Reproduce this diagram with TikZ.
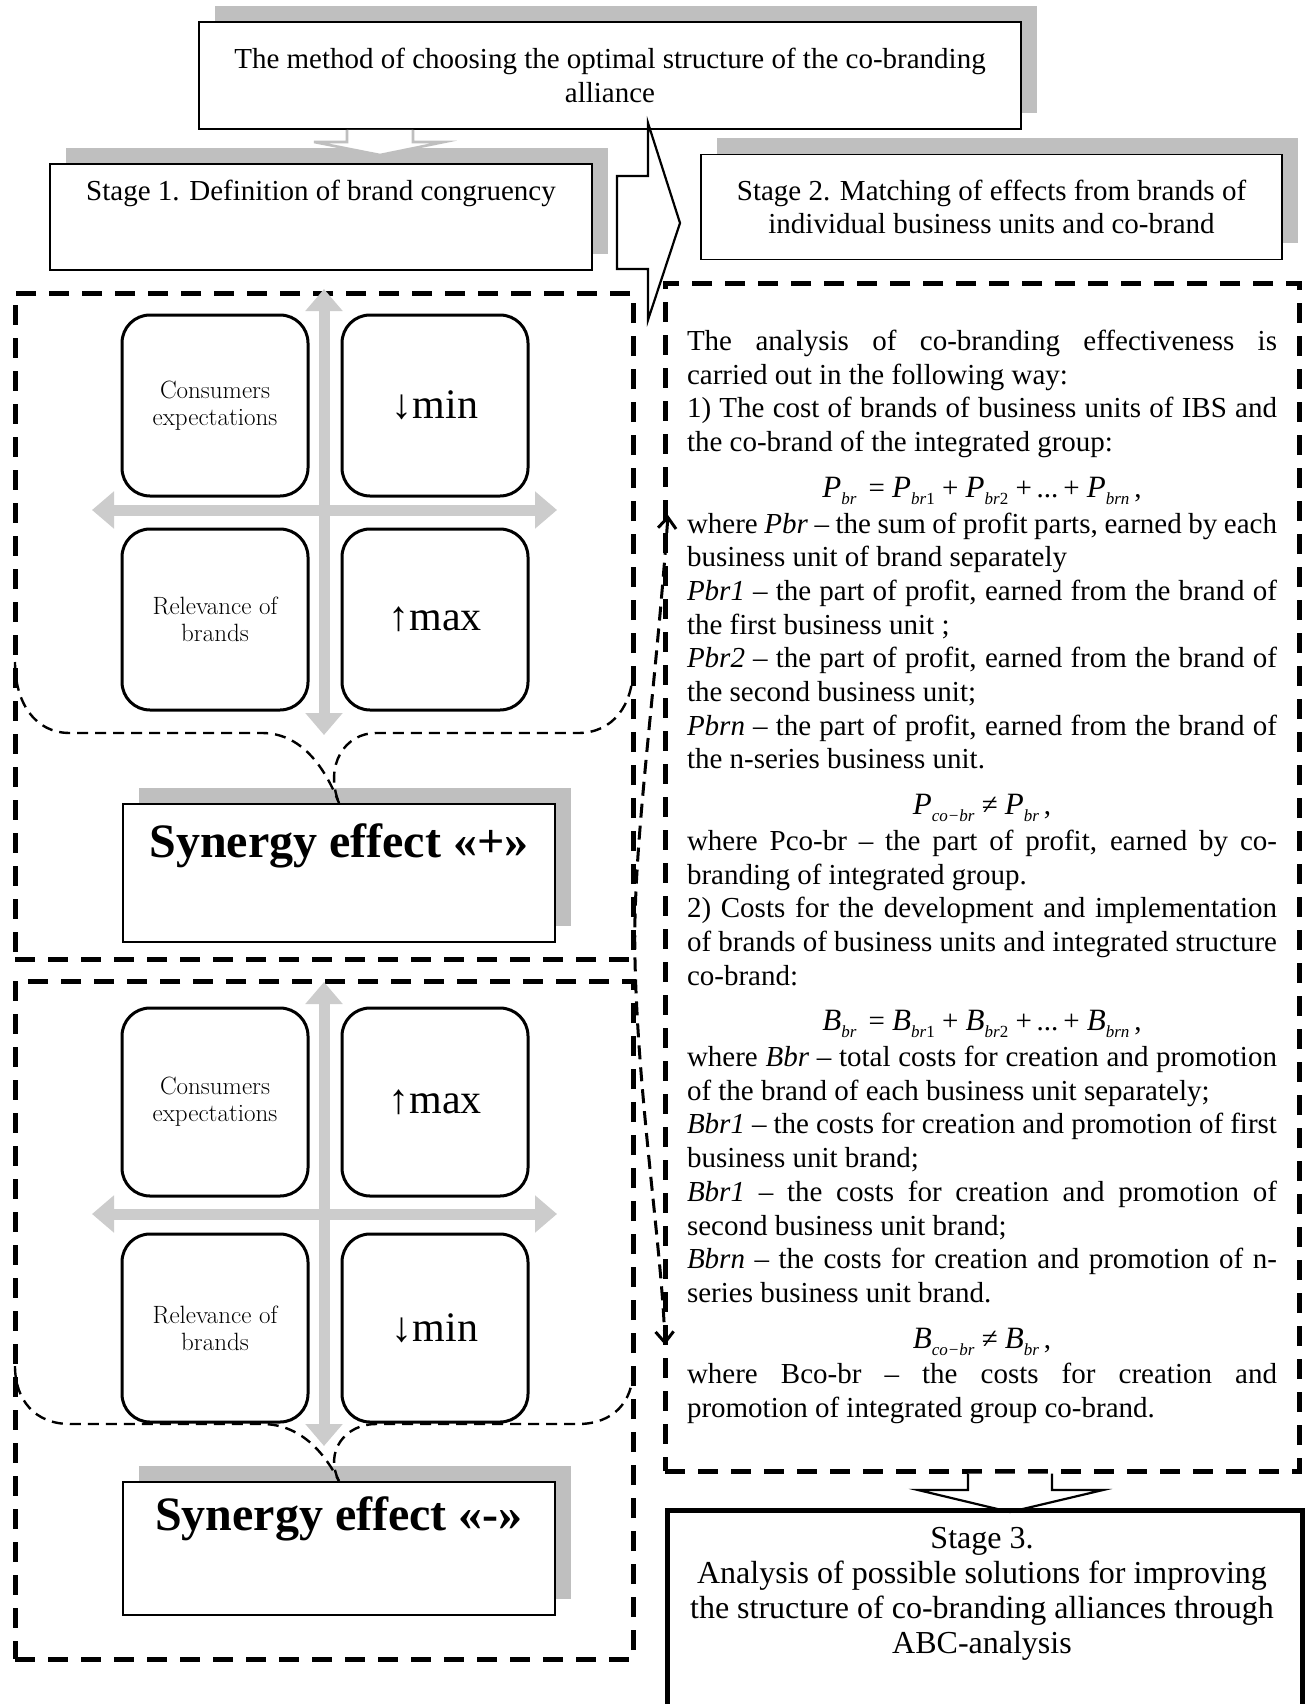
\documentclass[tikz,border=0pt]{standalone}
\usepackage{fontspec}
\setmainfont{Liberation Serif}
\usepackage{tikz}
\usetikzlibrary{positioning, arrows.meta, shadows}
\definecolor{shadowGray}{HTML}{BFBFBF}
\definecolor{axisGray}{HTML}{CCCCCC}
\newcommand{\bodyFont}{\fontsize{29}{33.7}\selectfont}
\newcommand{\cellFont}{\fontfamily{lmr}\fontsize{25}{27}\selectfont}
\newcommand{\signFont}{\fontsize{42}{46}\selectfont}
\newcommand{\synFont}{\fontsize{48}{52}\selectfont\bfseries}
% letter with an italic index, as in the formulas
\newcommand{\sbr}[2]{{\fontsize{31}{31}\selectfont\textit{#1}}\raisebox{-7pt}{\fontsize{17}{17}\selectfont\textit{#2}}}

\begin{document}
\begin{tikzpicture}[x=1pt, y=-1pt,
  shad/.style={drop shadow={shadow xshift=16pt, shadow yshift=16pt, opacity=1, fill=shadowGray}},
  boxS/.style={rectangle, draw, line width=1.8pt, fill=white, shad, align=center, font=\bodyFont},
  dashB/.style={rectangle, draw, line width=5pt, dash pattern=on 20pt off 13pt},
  quadB/.style={rectangle, draw, line width=3pt, rounded corners=28pt, fill=white,
                minimum width=186pt, minimum height=181pt, align=center},
  axisA/.style={draw=axisGray, line width=11pt,
                {Triangle[length=22pt,width=36pt]}-{Triangle[length=22pt,width=36pt]}},
  callL/.style={line width=2.4pt, dash pattern=on 11pt off 7pt},
  synB/.style={rectangle, draw, line width=1.8pt, fill=white, shad, minimum width=432pt},
  hollowA/.style={draw, line width=2.2pt, fill=white},
  linkA/.style={line width=3pt, dash pattern=on 14pt off 8pt,
                {Straight Barb[length=11pt,width=18pt]}-{Straight Barb[length=11pt,width=18pt]}},
]
  \path[use as bounding box, fill=white] (0,0) rectangle (1308,1704);

  % stages
  \node[boxS, minimum width=822pt, minimum height=107pt] (title) at (610,75.5)
    {The method of choosing the optimal structure of the co-branding\\alliance};
  \node[boxS, minimum width=542pt, minimum height=106pt] (st1) at (321,217) {};
  \node[font=\bodyFont] at ([yshift=-30pt]st1.north) {Stage 1. Definition of brand congruency};
  \node[boxS, minimum width=581pt, minimum height=105pt] (st2) at (991.5,207)
    {Stage 2. Matching of effects from brands of\\individual business units and co-brand};

  \draw[hollowA, draw=shadowGray, line width=2.6pt] (347,0 |- title.south) -- (347,142) -- (314,142)
    -- (380,155) -- (444,142) -- (413,142) -- (413,0 |- title.south);
  \draw[hollowA] (617,176) -- (648,176) -- (648,123) -- (680,223) -- (648,320) -- (648,269)
    -- (617,269) -- cycle;

  % dashed groups
  \node[dashB, minimum width=618pt, minimum height=666pt] (grp1) at (324,626) {};
  \node[dashB, minimum width=618pt, minimum height=678pt] (grp2) at (324,1320) {};

  % upper matrix
  \coordinate (vT1) at (324,289);
  \coordinate (vB1) at (324,735);
  \coordinate (hL1) at (92,510);
  \coordinate (hR1) at (557,510);
  \draw[axisA] (vT1) -- (vB1);
  \draw[axisA] (hL1) -- (hR1);
  \node[quadB, font=\cellFont] (ce1) at (215,405.5) {Consumers\\expectations};
  \node[quadB, font=\signFont, right=31pt of ce1] (mn1) {↓min};
  \node[quadB, font=\cellFont, below=30pt of ce1] (rb1) {Relevance of\\brands};
  \node[quadB, font=\signFont, right=31pt of rb1] (mx1) {↑max};

  \node[synB, minimum height=138pt] (syn1) at (339,873) {};
  \node[font=\synFont] at ([yshift=-43pt]syn1.north) {Synergy effect «+»};
  \coordinate (cl1) at (15,662);
  \coordinate (cr1) at (633,668);
  \draw[callL] (cl1) .. controls (15,703) and (35,733) .. (70,733) -- (262,733)
    .. controls (300,733) and (324,765) .. (syn1.north);
  \draw[callL] (cr1) .. controls (633,705) and (613,733) .. (578,733) -- (376,733)
    .. controls (345,733) and (324,765) .. (syn1.north);

  % lower matrix
  \coordinate (vT2) at (324,982);
  \coordinate (vB2) at (324,1446);
  \coordinate (hL2) at (92,1214);
  \coordinate (hR2) at (557,1214);
  \draw[axisA] (vT2) -- (vB2);
  \draw[axisA] (hL2) -- (hR2);
  \node[quadB, font=\cellFont, minimum height=188pt] (ce2) at (215,1102) {Consumers\\expectations};
  \node[quadB, font=\signFont, minimum height=188pt, right=31pt of ce2] (mx2) {↑max};
  \node[quadB, font=\cellFont, minimum height=188pt, below=35pt of ce2] (rb2) {Relevance of\\brands};
  \node[quadB, font=\signFont, minimum height=188pt, right=31pt of rb2] (mn2) {↓min};

  \node[synB, minimum height=133pt] (syn2) at (339,1548.5) {};
  \node[font=\synFont] at ([yshift=-38pt]syn2.north) {Synergy effect «-»};
  \coordinate (cl2) at (15,1366);
  \coordinate (cr2) at (633,1370);
  \draw[callL] (cl2) .. controls (15,1400) and (35,1424) .. (70,1424) -- (262,1424)
    .. controls (300,1424) and (324,1452) .. (syn2.north);
  \draw[callL] (cr2) .. controls (633,1402) and (613,1424) .. (578,1424) -- (376,1424)
    .. controls (345,1424) and (324,1452) .. (syn2.north);

  % analysis of effects
  \node[dashB, minimum width=634pt, minimum height=1188pt, text width=590pt, align=justify,
        inner sep=0pt, font=\bodyFont] (anl) at (982,877) {\setlength{\parindent}{0pt}\hbadness=10000
    The analysis of co-branding effectiveness is\linebreak
    carried out in the following way:\par
    1) The cost of brands of business units of IBS and\linebreak
    the co-brand of the integrated group:\par
    \vspace{12pt}{\centering\sbr{P}{br}~\,=~\sbr{P}{br\textup{1}}~+~\sbr{P}{br\textup{2}}~+\,...\,+~\sbr{P}{brn}\,,\par}\vspace{2pt}
    where \textit{Pbr} – the sum of profit parts, earned by each\linebreak
    business unit of brand separately\par
    \textit{Pbr1} – the part of profit, earned from the brand of\linebreak
    the first business unit ;\par
    \textit{Pbr2} – the part of profit, earned from the brand of\linebreak
    the second business unit;\par
    \textit{Pbrn} – the part of profit, earned from the brand of\linebreak
    the n-series business unit.\par
    \vspace{12pt}{\centering\sbr{P}{co−br}~≠~\sbr{P}{br}\,,\par}\vspace{2pt}
    where Pco-br – the part of profit, earned by co-\linebreak
    branding of integrated group.\par
    2) Costs for the development and implementation\linebreak
    of brands of business units and integrated structure\linebreak
    co-brand:\par
    \vspace{12pt}{\centering\sbr{B}{br}~\,=~\sbr{B}{br\textup{1}}~+~\sbr{B}{br\textup{2}}~+\,...\,+~\sbr{B}{brn}\,,\par}\vspace{2pt}
    where \textit{Bbr} – total costs for creation and promotion\linebreak
    of the brand of each business unit separately;\par
    \textit{Bbr1} – the costs for creation and promotion of first\linebreak
    business unit brand;\par
    \textit{Bbr1} – the costs for creation and promotion of\linebreak
    second business unit brand;\par
    \textit{Bbrn} – the costs for creation and promotion of n-\linebreak
    series business unit brand.\par
    \vspace{12pt}{\centering\sbr{B}{co−br}~≠~\sbr{B}{br}\,,\par}\vspace{2pt}
    where Bco-br – the costs for creation and\linebreak
    promotion of integrated group co-brand.};

  \coordinate (upT) at (668,515);
  \coordinate (dnT) at (665,1345);
  \draw[linkA] (upT) .. controls (655,700) and (632,850) .. (635,960)
    .. controls (638,1100) and (662,1250) .. (dnT);

  % stage 3
  \draw[hollowA] (968,0 |- anl.south) -- (968,1490) -- (918,1490) -- (1010,1512) -- (1103,1490)
    -- (1052,1490) -- (1052,0 |- anl.south);
  \node[rectangle, draw, line width=5pt, minimum width=635pt, minimum height=260pt,
        anchor=north west] (st3) at (665,1508) {};
  \node[font=\fontsize{32}{34.8}\selectfont, align=center] at (982,1594)
    {Stage 3.\\Analysis of possible solutions for improving\\the structure of co-branding alliances through\\ABC-analysis};
\end{tikzpicture}
\end{document}
